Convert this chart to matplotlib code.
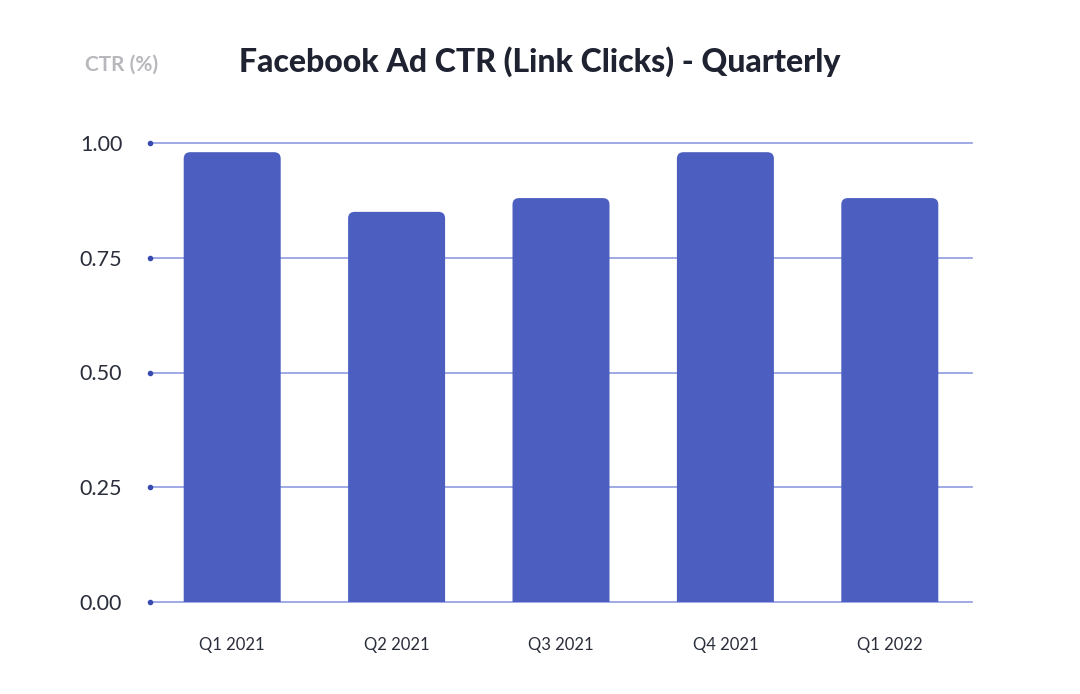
import matplotlib.pyplot as plt
from matplotlib.patches import FancyBboxPatch

plt.rcParams['font.family'] = 'Lato'

quarters = ['Q1 2021', 'Q2 2021', 'Q3 2021', 'Q4 2021', 'Q1 2022']
ctr = [0.98, 0.85, 0.88, 0.98, 0.88]
yticks = [0.00, 0.25, 0.50, 0.75, 1.00]

bar_color = '#4c5fc1'
grid_color = '#8f9be0'

fig = plt.figure(figsize=(10.8, 6.94), dpi=100)
ax = fig.add_axes([150/1080, 1 - 602/694, 822/1080, 459/694])
ax.set_xlim(-0.5, 4.5)
ax.set_ylim(0, 1)

for t in yticks:
    ax.axhline(t, color=grid_color, lw=1.2, zorder=1, clip_on=False)
    ax.plot(-0.5, t, 'o', ms=3, color='#3a4bb0', clip_on=False, zorder=3)

w = 0.59
for i, v in enumerate(ctr):
    p = FancyBboxPatch((i - w/2, -0.03), w, v + 0.03,
                       boxstyle='round,pad=0,rounding_size=0.04',
                       mutation_aspect=164/459, fc=bar_color, ec='none', zorder=2)
    ax.add_patch(p)

ax.set_xticks(range(len(quarters)))
ax.set_xticklabels(quarters, fontsize=12, color='#2a2d3a')
ax.set_yticks(yticks)
ax.set_yticklabels([f'{t:.2f}' for t in yticks], fontsize=15.5, color='#2a2d3a')
ax.tick_params(length=0)
ax.tick_params(axis='x', pad=25)
ax.tick_params(axis='y', pad=20)
for s in ax.spines.values():
    s.set_visible(False)

fig.text(540/1080, 1 - 62/694, 'Facebook Ad CTR (Link Clicks) - Quarterly',
         ha='center', va='center', fontsize=23, fontweight='heavy', color='#1f2230')
fig.text(122/1080, 1 - 65/694, 'CTR (%)', ha='center', va='center',
         fontsize=15, fontweight='bold', color='#b8b8bc')

fig.savefig('out.png', dpi=100, facecolor='white')
